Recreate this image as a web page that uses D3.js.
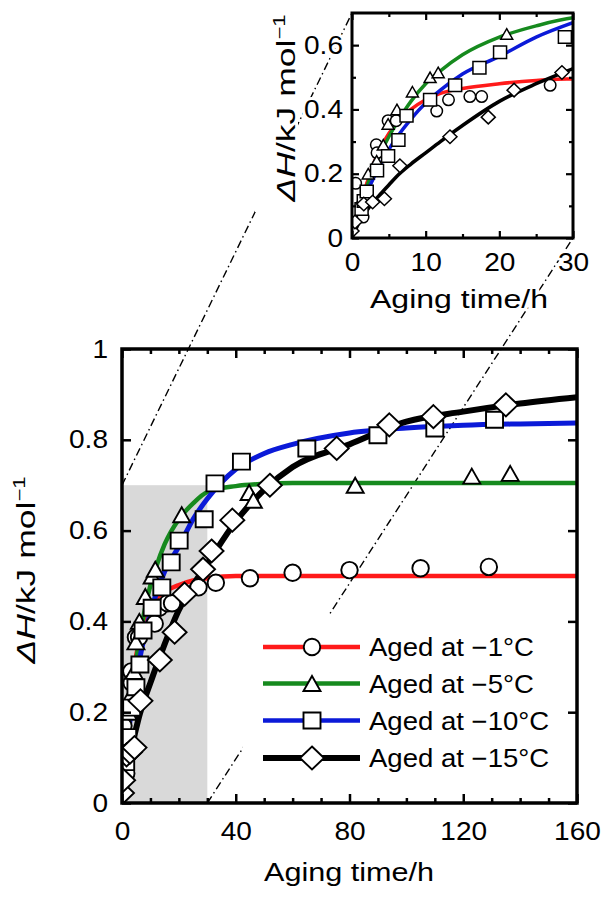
<!DOCTYPE html>
<html>
<head>
<meta charset="utf-8">
<script src="https://cdn.jsdelivr.net/npm/d3@7"></script>
<style>
  body { margin: 0; background: #fff; }
  text { font-family: "Liberation Sans", Arial, sans-serif; fill: #000; }
</style>
</head>
<body>
<svg id="chart" width="603" height="898"></svg>
<script>
// fitted curves
const curveTimes = [0, 1, 2, 3, 4, 5, 6, 8, 10, 12, 15, 20, 25, 30, 40, 50, 60, 80, 100, 120, 140, 160];
const fitMinus1 = [0.02, 0.10, 0.17, 0.235, 0.285, 0.325, 0.355, 0.40, 0.43, 0.45, 0.465, 0.48, 0.49, 0.495, 0.50, 0.50, 0.50, 0.50, 0.50, 0.50, 0.50, 0.50];
const fitMinus5 = [0.02, 0.09, 0.16, 0.22, 0.27, 0.315, 0.355, 0.425, 0.48, 0.52, 0.57, 0.625, 0.66, 0.685, 0.698, 0.703, 0.705, 0.705, 0.705, 0.705, 0.705, 0.705];
const fitMinus10 = [0.02, 0.08, 0.14, 0.19, 0.235, 0.275, 0.31, 0.37, 0.42, 0.46, 0.51, 0.565, 0.625, 0.67, 0.735, 0.77, 0.79, 0.815, 0.826, 0.832, 0.835, 0.837];
const fitMinus15 = [0.0, 0.05, 0.085, 0.115, 0.14, 0.165, 0.19, 0.23, 0.265, 0.30, 0.35, 0.425, 0.48, 0.527, 0.62, 0.69, 0.74, 0.79, 0.84, 0.862, 0.88, 0.894];

// measured points [time h, dH kJ/mol]
const ptsMinus1 = [[0.5, 0.17], [1.5, 0.065], [3.3, 0.29], [3.4, 0.265], [4.9, 0.365], [6.0, 0.365], [11.5, 0.395], [13.1, 0.43], [16, 0.44], [17.6, 0.44], [26.9, 0.475], [33, 0.485], [45, 0.495], [60, 0.507], [80, 0.513], [105, 0.517], [129, 0.52]];
const ptsMinus5 = [[1.3, 0.12], [2.2, 0.2], [3.35, 0.24], [4.25, 0.29], [4.9, 0.355], [6.1, 0.40], [8.2, 0.455], [10.6, 0.50], [11.7, 0.515], [21, 0.635], [44.7, 0.684], [46.2, 0.667], [82, 0.70], [123, 0.72], [136.5, 0.726]];
const ptsMinus10 = [[1.3, 0.09], [1.6, 0.115], [2, 0.145], [3.4, 0.21], [4.9, 0.255], [6.3, 0.305], [7.4, 0.38], [10.6, 0.43], [14, 0.475], [17.3, 0.53], [20.1, 0.578], [28.9, 0.625], [32.7, 0.704], [42, 0.752], [65, 0.781], [90, 0.81], [110, 0.825], [131, 0.844]];
const ptsMinus15 = [[0, 0.022], [0.4, 0.05], [1.6, 0.106], [2.8, 0.112], [4.4, 0.122], [6.5, 0.225], [13.3, 0.315], [18.5, 0.376], [22, 0.46], [28.5, 0.515], [31.5, 0.555], [38.8, 0.623], [52, 0.70], [75.5, 0.781], [94, 0.833], [109.5, 0.851], [135, 0.877]];

const seriesLabels = ["Aged at \u22121\u00B0C", "Aged at \u22125\u00B0C", "Aged at \u221210\u00B0C", "Aged at \u221215\u00B0C"];
const seriesColors = ["#ff1a1a", "#168a1e", "#0b1ad8", "#000000"];
const seriesShapes = ["circle", "triangle", "square", "diamond"];

const mainXTicks = d3.range(0, 161, 10);
const mainYTicks = [0, 0.2, 0.4, 0.6, 0.8, 1];
const insetXTicks = d3.range(0, 31, 5);
const insetYTicks = d3.range(0, 7).map((i) => i / 10);
const zoomBox = { t: 30, h: 0.7 };

const series = [fitMinus1, fitMinus5, fitMinus10, fitMinus15].map((fit, i) => ({
  label: seriesLabels[i],
  color: seriesColors[i],
  shape: seriesShapes[i],
  fit: curveTimes.map((t, k) => [t, fit[k]]),
  pts: [ptsMinus1, ptsMinus5, ptsMinus10, ptsMinus15][i],
}));

const svg = d3.select("#chart");
const MAIN = { left: 122, right: 577, top: 349, bottom: 803 };
const INSET = { left: 352, right: 573, top: 13, bottom: 238 };
const FONT = 25.5;
const WIDE = 1.1;

const mx = d3.scaleLinear().domain([0, 160]).range([MAIN.left, MAIN.right]);
const my = d3.scaleLinear().domain([0, 1]).range([MAIN.bottom, MAIN.top]);
const ix = d3.scaleLinear().domain([0, zoomBox.t]).range([INSET.left, INSET.right]);
const iy = d3.scaleLinear().domain([0, zoomBox.h]).range([INSET.bottom, INSET.top]);

function stretch(sel, k) {
  sel.each(function () {
    const len = this.getComputedTextLength();
    d3.select(this).attr("textLength", len * k).attr("lengthAdjust", "spacingAndGlyphs");
  });
}

function markerPath(shape, s) {
  if (shape === "triangle") return `M0,${-s.h / 2}L${s.w / 2},${s.h / 2}L${-s.w / 2},${s.h / 2}Z`;
  if (shape === "square") return `M${-s.w / 2},${-s.h / 2}h${s.w}v${s.h}h${-s.w}Z`;
  if (shape === "diamond") return `M0,${-s.h / 2}L${s.w / 2},0L0,${s.h / 2}L${-s.w / 2},0Z`;
  return d3.arc()({ innerRadius: 0, outerRadius: s.w / 2, startAngle: 0, endAngle: 2 * Math.PI });
}

const mainSizes = {
  circle: { w: 16.5, h: 16.5 },
  triangle: { w: 17, h: 15 },
  square: { w: 17, h: 16 },
  diamond: { w: 24, h: 23 },
};
const insetSizes = {
  circle: { w: 11.5, h: 11.5 },
  triangle: { w: 12, h: 10.5 },
  square: { w: 13, h: 12.5 },
  diamond: { w: 14, h: 13.5 },
};

function drawSeries(g, sx, sy, sizes, lineW, markW, tMax) {
  const line = d3.line().x((d) => sx(d[0])).y((d) => sy(d[1])).curve(d3.curveMonotoneX);
  series.forEach((s, i) => {
    g.append("path")
      .attr("d", line(s.fit))
      .attr("fill", "none")
      .attr("stroke", s.color)
      .attr("stroke-width", lineW[i]);
  });
  series.forEach((s) => {
    g.selectAll(null)
      .data(s.pts.filter((d) => d[0] <= tMax))
      .join("path")
      .attr("d", markerPath(s.shape, sizes[s.shape]))
      .attr("transform", (d) => `translate(${sx(d[0])},${sy(d[1])})`)
      .attr("fill", "#fff")
      .attr("stroke", "#000")
      .attr("stroke-width", markW);
  });
}

function yTitle(g, x, y, size, len) {
  const t = g.append("text")
    .attr("transform", `translate(${x},${y}) rotate(-90)`)
    .attr("text-anchor", "middle")
    .style("font-size", size + "px");
  t.append("tspan").style("font-style", "italic").text("\u0394H");
  t.append("tspan").text("/kJ mol");
  t.append("tspan").attr("dy", -size * 0.4).style("font-size", size * 0.62 + "px").text("\u22121");
  t.attr("textLength", len).attr("lengthAdjust", "spacingAndGlyphs");
  return t;
}

function renderZoomLines() {
  const dash = "8,3.5,1.5,3.5";
  svg.append("line")
    .attr("x1", mx(0)).attr("y1", my(zoomBox.h))
    .attr("x2", ix(0)).attr("y2", iy(zoomBox.h))
    .attr("stroke", "#000").attr("stroke-width", 1.4).attr("stroke-dasharray", dash);
  svg.append("line")
    .attr("x1", mx(zoomBox.t)).attr("y1", my(0))
    .attr("x2", ix(zoomBox.t)).attr("y2", iy(0))
    .attr("stroke", "#000").attr("stroke-width", 1.4).attr("stroke-dasharray", dash);
}

function renderMain() {
  svg.append("defs").append("clipPath").attr("id", "mainClip")
    .append("rect").attr("x", MAIN.left).attr("y", MAIN.top)
    .attr("width", MAIN.right - MAIN.left).attr("height", MAIN.bottom - MAIN.top);

  // zoomed region
  svg.append("rect")
    .attr("x", mx(0)).attr("y", my(zoomBox.h))
    .attr("width", mx(zoomBox.t) - mx(0)).attr("height", my(0) - my(zoomBox.h))
    .attr("fill", "#d9d9d9");

  renderZoomLines();

  const plot = svg.append("g").attr("clip-path", "url(#mainClip)");
  drawSeries(plot, mx, my, mainSizes, [4.5, 4.5, 5, 6], 1.9, 160);

  // legend with a white box behind it
  const leg = svg.append("g");
  leg.append("rect").attr("x", 243).attr("y", 615).attr("width", 330).attr("height", 165).attr("fill", "#fff");
  const rowsY = [647, 683.5, 720.5, 758];
  series.forEach((s, i) => {
    leg.append("line")
      .attr("x1", 263).attr("x2", 360).attr("y1", rowsY[i]).attr("y2", rowsY[i])
      .attr("stroke", s.color).attr("stroke-width", i === 3 ? 6 : 4.5);
    leg.append("path")
      .attr("d", markerPath(s.shape, mainSizes[s.shape]))
      .attr("transform", `translate(312,${rowsY[i]})`)
      .attr("fill", "#fff").attr("stroke", "#000").attr("stroke-width", 1.9);
    leg.append("text")
      .attr("x", 369).attr("y", rowsY[i] + 9)
      .style("font-size", FONT + "px")
      .text(s.label)
      .call(stretch, 1.08);
  });

  // axes, ticks inward
  const xb = svg.append("g").attr("transform", `translate(0,${MAIN.bottom})`)
    .call(d3.axisBottom(mx).tickValues(mainXTicks).tickSize(-9).tickPadding(19)
      .tickFormat((d) => (d % 40 === 0 ? d : "")));
  const xt = svg.append("g").attr("transform", `translate(0,${MAIN.top})`)
    .call(d3.axisTop(mx).tickValues(mainXTicks).tickSize(-9).tickFormat(""));
  [xb, xt].forEach((a) => {
    a.selectAll(".tick line").filter((d) => d % 40 !== 0).attr("y2", a === xb ? -5 : 5);
  });
  const yl = svg.append("g").attr("transform", `translate(${MAIN.left},0)`)
    .call(d3.axisLeft(my).tickValues(mainYTicks).tickSize(-9).tickPadding(14)
      .tickFormat((d) => (d === 0 || d === 1 ? d : d3.format(".1f")(d))));
  const yr = svg.append("g").attr("transform", `translate(${MAIN.right},0)`)
    .call(d3.axisRight(my).tickValues(mainYTicks).tickSize(-9).tickFormat(""));
  [xb, xt, yl, yr].forEach((a) => {
    a.select(".domain").remove();
    a.selectAll(".tick line").attr("stroke", "#000").attr("stroke-width", 2.5);
    a.selectAll("text").style("font-size", FONT + "px").attr("font-family", null).call(stretch, WIDE);
  });

  svg.append("rect")
    .attr("x", MAIN.left).attr("y", MAIN.top)
    .attr("width", MAIN.right - MAIN.left).attr("height", MAIN.bottom - MAIN.top)
    .attr("fill", "none").attr("stroke", "#000").attr("stroke-width", 3.5);

  svg.append("text").attr("x", 264).attr("y", 881)
    .style("font-size", FONT + "px").text("Aging time/h")
    .attr("textLength", 170).attr("lengthAdjust", "spacingAndGlyphs");
  yTitle(svg, 35, 570, FONT, 187);
}

function renderInset() {
  svg.append("defs").append("clipPath").attr("id", "insetClip")
    .append("rect").attr("x", INSET.left).attr("y", INSET.top)
    .attr("width", INSET.right - INSET.left).attr("height", INSET.bottom - INSET.top);

  const plot = svg.append("g").attr("clip-path", "url(#insetClip)");
  drawSeries(plot, ix, iy, insetSizes, [3.5, 3.5, 3.5, 3.5], 1.5, zoomBox.t + 1);

  // white patch behind the rotated title hides the guide line
  svg.append("rect").attr("x", 255).attr("y", 0).attr("width", 43).attr("height", 212).attr("fill", "#fff");

  const halo = (sel) => sel.style("paint-order", "stroke").attr("stroke", "#fff")
    .attr("stroke-width", 6).attr("stroke-linejoin", "round");

  const xb = svg.append("g").attr("transform", `translate(0,${INSET.bottom})`)
    .call(d3.axisBottom(ix).tickValues(insetXTicks).tickSize(-7).tickPadding(15)
      .tickFormat((d) => (d % 10 === 0 ? d : "")));
  const xt = svg.append("g").attr("transform", `translate(0,${INSET.top})`)
    .call(d3.axisTop(ix).tickValues(insetXTicks).tickSize(-7).tickFormat(""));
  [xb, xt].forEach((a) => {
    a.selectAll(".tick line").filter((d) => d % 10 !== 0).attr("y2", a === xb ? -4 : 4);
  });
  const major = (d) => Math.round(d * 10) % 2 === 0;
  const yl = svg.append("g").attr("transform", `translate(${INSET.left},0)`)
    .call(d3.axisLeft(iy).tickValues(insetYTicks).tickSize(-7).tickPadding(9)
      .tickFormat((d) => (d === 0 ? "0" : major(d) ? d3.format(".1f")(d) : "")));
  const yr = svg.append("g").attr("transform", `translate(${INSET.right},0)`)
    .call(d3.axisRight(iy).tickValues(insetYTicks).tickSize(-7).tickFormat(""));
  [yl, yr].forEach((a) => {
    a.selectAll(".tick line").filter((d) => !major(d)).attr("x2", a === yl ? 4 : -4);
  });
  [xb, xt, yl, yr].forEach((a) => {
    a.select(".domain").remove();
    a.selectAll(".tick line").attr("stroke", "#000").attr("stroke-width", 2.2);
    a.selectAll("text").style("font-size", FONT + "px").attr("font-family", null).call(halo).call(stretch, WIDE);
  });

  svg.append("rect")
    .attr("x", INSET.left).attr("y", INSET.top)
    .attr("width", INSET.right - INSET.left).attr("height", INSET.bottom - INSET.top)
    .attr("fill", "none").attr("stroke", "#000").attr("stroke-width", 3);

  svg.append("text").attr("x", 370).attr("y", 308)
    .style("font-size", FONT + "px").text("Aging time/h")
    .call(halo)
    .attr("textLength", 178).attr("lengthAdjust", "spacingAndGlyphs");
  yTitle(svg, 295, 108, FONT, 187);
}

renderMain();
renderInset();
</script>
</body>
</html>
